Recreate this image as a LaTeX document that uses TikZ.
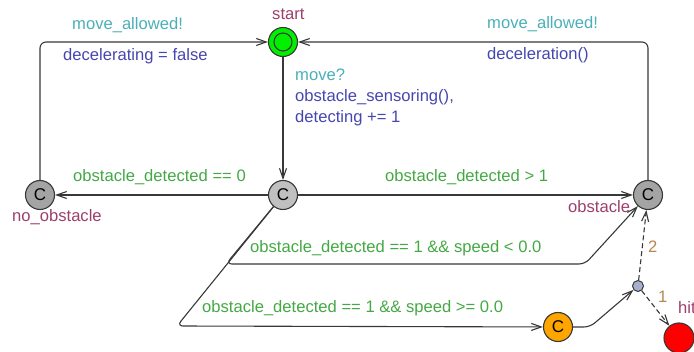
\documentclass[tikz,border=0pt]{standalone}
\usepackage{fontspec}
\setmainfont{Liberation Sans}
\usetikzlibrary{arrows.meta}
\definecolor{syncc}{HTML}{4AAFB8}
\definecolor{updc}{HTML}{4646B0}
\definecolor{guardc}{HTML}{44A844}
\definecolor{namec}{HTML}{9C3F6C}
\definecolor{probc}{HTML}{B8864B}
\definecolor{startg}{HTML}{00F000}
\definecolor{lightg}{HTML}{C0C0C0}
\definecolor{darkg}{HTML}{A4A4A4}
\definecolor{orangec}{HTML}{FFA500}
\definecolor{branchc}{HTML}{A8B0D0}
\definecolor{linec}{HTML}{383838}
\begin{document}
\begin{tikzpicture}[x=1pt,y=-1pt,
  loc/.style={circle,draw=linec,line width=1.1pt,minimum size=29pt,inner sep=0pt,font=\fontsize{17}{17}\selectfont},
  edge/.style={draw=linec,line width=1.1pt,-{Straight Barb[length=10pt,width=7pt]},rounded corners=6pt},
  lbl/.style={anchor=base west,inner sep=0pt,font=\fontsize{16.6}{20}\selectfont},
]
\useasboundingbox (0,0) rectangle (694,352);
% locations
\node[loc,fill=startg] (start) at (283,42) {};
\draw[linec,line width=1.1pt] (start.center) circle[radius=9pt];
\node[loc,fill=lightg] (mid) at (283,195) {C};
\node[loc,fill=darkg] (noobs) at (40,195) {C};
\node[loc,fill=darkg] (obs) at (648,195) {C};
\node[loc,fill=orangec] (commit) at (558,327) {C};
\node[circle,draw=linec,line width=1pt,fill=branchc,minimum size=11pt,inner sep=0pt] (br) at (638,286) {};
\node[loc,fill=red,minimum size=30pt] (hit) at (679,338) {};
% nails
\coordinate (n1) at (226,264);
\coordinate (n2) at (585,264);
\coordinate (n3) at (177,326);
\coordinate (n4) at (590,327);
% edges
\draw[edge] (noobs) |- (start);
\draw[edge] (obs) |- (start);
\draw[edge] (start) -- (mid);
\draw[edge] (mid) -- (noobs);
\draw[edge] (mid) -- (obs);
\draw[edge] (mid) -- (n1) -- (n2) -- (obs);
\draw[edge] (mid) -- (n3) -- (commit);
\draw[edge] (commit) -- (n4) -- (br);
\draw[edge,dash pattern=on 5pt off 3pt] (br) -- (obs);
\draw[edge,dash pattern=on 5pt off 3pt] (br) -- (hit);
% labels
\node[lbl,text=namec] (lstart) at (272,20) {start};
\node[lbl,text=namec] (lnoobs) at (12,222) {no\_obstacle};
\node[lbl,text=namec] (lobs) at (568,213) {obstacle};
\node[lbl,text=namec] (lhit) at (678,314) {hit};
\node[lbl,text=syncc] (s1) at (72,30) {move\_allowed!};
\node[lbl,text=updc] (u1) at (63,61) {decelerating = false};
\node[lbl,text=syncc] (s2) at (487,29) {move\_allowed!};
\node[lbl,text=updc] (u2) at (487,60) {deceleration()};
\node[lbl,text=syncc] (s3) at (295,81) {move?};
\node[lbl,text=updc] (u3) at (295,102) {obstacle\_sensoring(),};
\node[lbl,text=updc] (u4) at (295,123) {detecting += 1};
\node[lbl,text=guardc] (g1) at (73,182) {obstacle\_detected == 0};
\node[lbl,text=guardc] (g2) at (385,182) {obstacle\_detected > 1};
\node[lbl,text=guardc] (g3) at (250,253) {obstacle\_detected == 1 \&\& speed < 0.0};
\node[lbl,text=guardc] (g4) at (202,313) {obstacle\_detected == 1 \&\& speed >= 0.0};
\node[lbl,text=probc] (p2) at (648,253) {2};
\node[lbl,text=probc] (p1) at (658,303) {1};
\end{tikzpicture}
\end{document}
